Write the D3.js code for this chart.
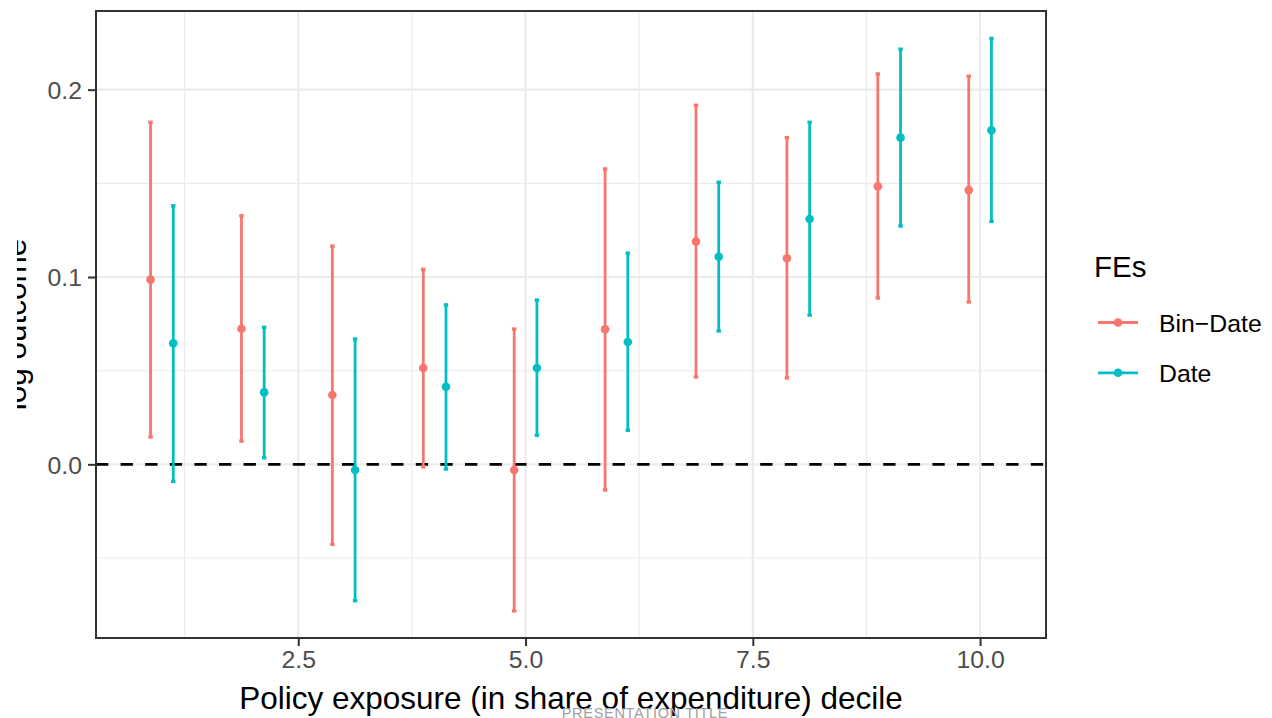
<!DOCTYPE html>
<html>
<head>
<meta charset="utf-8">
<script src="https://cdn.jsdelivr.net/npm/d3@7"></script>
<style>
  html, body { margin: 0; padding: 0; background: #fff; }
  svg { display: block; font-family: "Liberation Sans", Arial, Helvetica, sans-serif; }
</style>
</head>
<body>
<div id="chart"></div>
<script>
const width = 1272, height = 718;

// deciles and the two fixed-effect specifications
const deciles = [1, 2, 3, 4, 5, 6, 7, 8, 9, 10];
const groups = ["Bin\u2212Date", "Date"];
const groupColors = ["#F8766D", "#00BFC4"];

// Bin-Date estimates
const binDateEst = [0.0986, 0.0724, 0.0370, 0.0514, -0.0030, 0.0721, 0.1190, 0.1100, 0.1484, 0.1464];
const binDateLo  = [0.0146, 0.0124, -0.0427, -0.0013, -0.0782, -0.0137, 0.0466, 0.0461, 0.0888, 0.0867];
const binDateHi  = [0.1826, 0.1327, 0.1165, 0.1041, 0.0722, 0.1577, 0.1917, 0.1744, 0.2084, 0.2072];

// Date estimates
const dateEst = [0.0646, 0.0384, -0.0030, 0.0414, 0.0514, 0.0653, 0.1108, 0.1310, 0.1744, 0.1783];
const dateLo  = [-0.0091, 0.0035, -0.0728, -0.0025, 0.0155, 0.0182, 0.0712, 0.0797, 0.1272, 0.1297];
const dateHi  = [0.1380, 0.0731, 0.0669, 0.0851, 0.0877, 0.1127, 0.1506, 0.1826, 0.2216, 0.2274];

const xTicks = [2.5, 5.0, 7.5, 10.0];
const xMinor = [1.25, 3.75, 6.25, 8.75];
const yTicks = [0.0, 0.1, 0.2];
const yMinor = [-0.05, 0.05, 0.15];
const dodge = 0.125;

const rows = [];
deciles.forEach((d, i) => {
  rows.push({ g: 0, x: d - dodge, est: binDateEst[i], lo: binDateLo[i], hi: binDateHi[i] });
  rows.push({ g: 1, x: d + dodge, est: dateEst[i], lo: dateLo[i], hi: dateHi[i] });
});

const panel = { left: 96, top: 11, right: 1046, bottom: 638 };

const x = d3.scaleLinear().domain([0.275, 10.725]).range([panel.left, panel.right]);
const y = d3.scaleLinear().domain([-0.0927, 0.2420]).range([panel.bottom, panel.top]);

const svg = d3.select("#chart").append("svg")
  .attr("width", width)
  .attr("height", height);

svg.append("rect").attr("width", width).attr("height", height).attr("fill", "#fff");

const grid = svg.append("g");
// minor grid
grid.selectAll(".ymin").data(yMinor).join("line")
  .attr("x1", panel.left).attr("x2", panel.right)
  .attr("y1", d => y(d)).attr("y2", d => y(d))
  .attr("stroke", "#ebebeb").attr("stroke-width", 1.1);
grid.selectAll(".xmin").data(xMinor).join("line")
  .attr("y1", panel.top).attr("y2", panel.bottom)
  .attr("x1", d => x(d)).attr("x2", d => x(d))
  .attr("stroke", "#ebebeb").attr("stroke-width", 1.1);
// major grid
grid.selectAll(".ymaj").data(yTicks).join("line")
  .attr("x1", panel.left).attr("x2", panel.right)
  .attr("y1", d => y(d)).attr("y2", d => y(d))
  .attr("stroke", "#ebebeb").attr("stroke-width", 2.2);
grid.selectAll(".xmaj").data(xTicks).join("line")
  .attr("y1", panel.top).attr("y2", panel.bottom)
  .attr("x1", d => x(d)).attr("x2", d => x(d))
  .attr("stroke", "#ebebeb").attr("stroke-width", 2.2);

// zero reference line
svg.append("line")
  .attr("x1", panel.left).attr("x2", panel.right)
  .attr("y1", y(0)).attr("y2", y(0))
  .attr("stroke", "#000").attr("stroke-width", 2.8)
  .attr("stroke-dasharray", "12.3,12.3");

// error bars
const marks = svg.append("g");
marks.selectAll("line.range").data(rows).join("line")
  .attr("class", "range")
  .attr("x1", d => x(d.x)).attr("x2", d => x(d.x))
  .attr("y1", d => y(d.lo)).attr("y2", d => y(d.hi))
  .attr("stroke", d => groupColors[d.g]).attr("stroke-width", 2.8);
// small end nubs
const ends = rows.flatMap(d => [{ g: d.g, x: d.x, v: d.lo }, { g: d.g, x: d.x, v: d.hi }]);
marks.selectAll("rect.nub").data(ends).join("rect")
  .attr("class", "nub")
  .attr("x", d => x(d.x) - 2.2).attr("y", d => y(d.v) - 1.7)
  .attr("width", 4.4).attr("height", 3.4)
  .attr("fill", d => groupColors[d.g]);
marks.selectAll("circle").data(rows).join("circle")
  .attr("cx", d => x(d.x)).attr("cy", d => y(d.est))
  .attr("r", 4.3)
  .attr("fill", d => groupColors[d.g]);

// panel border
svg.append("rect")
  .attr("x", panel.left).attr("y", panel.top)
  .attr("width", panel.right - panel.left).attr("height", panel.bottom - panel.top)
  .attr("fill", "none").attr("stroke", "#333").attr("stroke-width", 2);

// axes
const xAxis = svg.append("g")
  .attr("transform", `translate(0,${panel.bottom})`)
  .call(d3.axisBottom(x).tickValues(xTicks).tickFormat(d3.format(".1f")).tickSize(8).tickPadding(4));
const yAxis = svg.append("g")
  .attr("transform", `translate(${panel.left},0)`)
  .call(d3.axisLeft(y).tickValues(yTicks).tickFormat(d3.format(".1f")).tickSize(8).tickPadding(6));
[xAxis, yAxis].forEach(a => {
  a.select(".domain").remove();
  a.selectAll(".tick line").attr("stroke", "#333").attr("stroke-width", 2);
  a.selectAll(".tick text").attr("fill", "#4d4d4d").style("font-size", "24.8px");
});
yAxis.selectAll(".tick text").attr("dy", "0.36em");
xAxis.selectAll(".tick text").attr("dy", "0.72em");

// axis titles
svg.append("text")
  .attr("x", 571)
  .attr("y", 709)
  .attr("text-anchor", "middle")
  .attr("fill", "#000")
  .style("font-size", "31.5px")
  .text("Policy exposure (in share of expenditure) decile");

// the y title is partly hidden on the left, as in the slide
svg.append("clipPath").attr("id", "yclip")
  .append("rect").attr("x", 17).attr("y", 0).attr("width", 80).attr("height", height);
svg.append("g")
  .attr("clip-path", "url(#yclip)")
  .append("text")
  .attr("transform", `translate(26,${(panel.top + panel.bottom) / 2}) rotate(-90)`)
  .attr("text-anchor", "middle")
  .attr("fill", "#000")
  .style("font-size", "31.5px")
  .text("log outcome");

// legend
const legend = svg.append("g");
legend.append("text")
  .attr("x", 1094).attr("y", 277)
  .attr("fill", "#000")
  .style("font-size", "29.5px")
  .text("FEs");
const items = legend.selectAll("g.item").data(groups).join("g")
  .attr("class", "item")
  .attr("transform", (d, i) => `translate(0,${322.5 + i * 50.3})`);
items.append("line")
  .attr("x1", 1098).attr("x2", 1138)
  .attr("stroke", (d, i) => groupColors[i]).attr("stroke-width", 2.8);
items.append("circle")
  .attr("cx", 1118).attr("r", 4.3)
  .attr("fill", (d, i) => groupColors[i]);
items.append("text")
  .attr("x", 1159).attr("y", 9)
  .attr("fill", "#000")
  .style("font-size", "24.8px")
  .text(d => d);

// slide footer
svg.append("text")
  .attr("x", 645).attr("y", 718)
  .attr("text-anchor", "middle")
  .attr("fill", "#a0a0a0")
  .style("font-size", "14.5px")
  .style("letter-spacing", "0.7px")
  .text("PRESENTATION TITLE");
</script>
</body>
</html>
